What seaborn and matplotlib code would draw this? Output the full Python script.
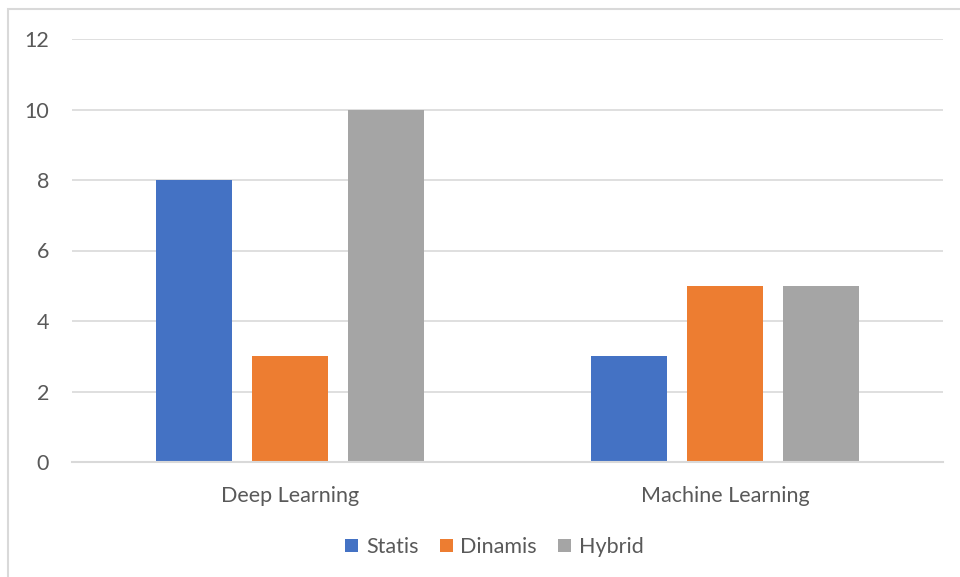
import matplotlib
matplotlib.use("Agg")
import matplotlib.pyplot as plt
import seaborn as sns
import pandas as pd
from matplotlib.patches import Rectangle

categories = ["Deep Learning", "Machine Learning"]
series = ["Statis", "Dinamis", "Hybrid"]
statis = [8, 3]
dinamis = [3, 5]
hybrid = [10, 5]
colors = ["#4472C4", "#ED7D31", "#A5A5A5"]
yticks = [0, 2, 4, 6, 8, 10, 12]

rows = []
for name, vals in zip(series, [statis, dinamis, hybrid]):
    for c, v in zip(categories, vals):
        rows.append({"Category": c, "Series": name, "Value": v})
df = pd.DataFrame(rows)

sns.set_theme(style="white")
plt.rcParams["font.family"] = ["Lato", "DejaVu Sans"]

fig = plt.figure(figsize=(9.6, 5.77), dpi=100)
ax = fig.add_axes([72/960, 1-462/577, (943-72)/960, (462-39)/577])

sns.barplot(data=df, x="Category", y="Value", hue="Series", order=categories,
            hue_order=series, palette=colors, width=0.661, gap=0.208,
            saturation=1, linewidth=0, ax=ax, legend=True)

ax.set_xlim(-0.5, 1.5)
ax.set_ylim(0, 12)
ax.set_yticks(yticks)
ax.set_yticklabels([str(t) for t in yticks])
ax.yaxis.grid(True, color="#D9D9D9", linewidth=1.2)
ax.set_axisbelow(True)
for s in ["top", "right", "left"]:
    ax.spines[s].set_visible(False)
ax.spines["bottom"].set_color("#D9D9D9")
ax.spines["bottom"].set_linewidth(1.5)
ax.tick_params(axis="both", length=0, labelsize=15.5, colors="#595959")
ax.tick_params(axis="y", pad=16.5)
ax.tick_params(axis="x", pad=17)
ax.set_xlabel("")
ax.set_ylabel("")

handles, labels = ax.get_legend_handles_labels()
ax.legend(handles, labels, loc="center", bbox_to_anchor=(494.5/960, 1-547/577),
          bbox_transform=fig.transFigure, ncol=3, frameon=False,
          fontsize=15.5, labelcolor="#595959", handlelength=0.6, handleheight=0.6,
          handletextpad=0.35, columnspacing=1.0)

fig.patches.append(Rectangle((8/960, -0.05), 1.2, 1-9/577+0.05, transform=fig.transFigure,
                             fill=False, edgecolor="#D9D9D9", linewidth=1.5))

fig.savefig("out.png", dpi=100, facecolor="white")
